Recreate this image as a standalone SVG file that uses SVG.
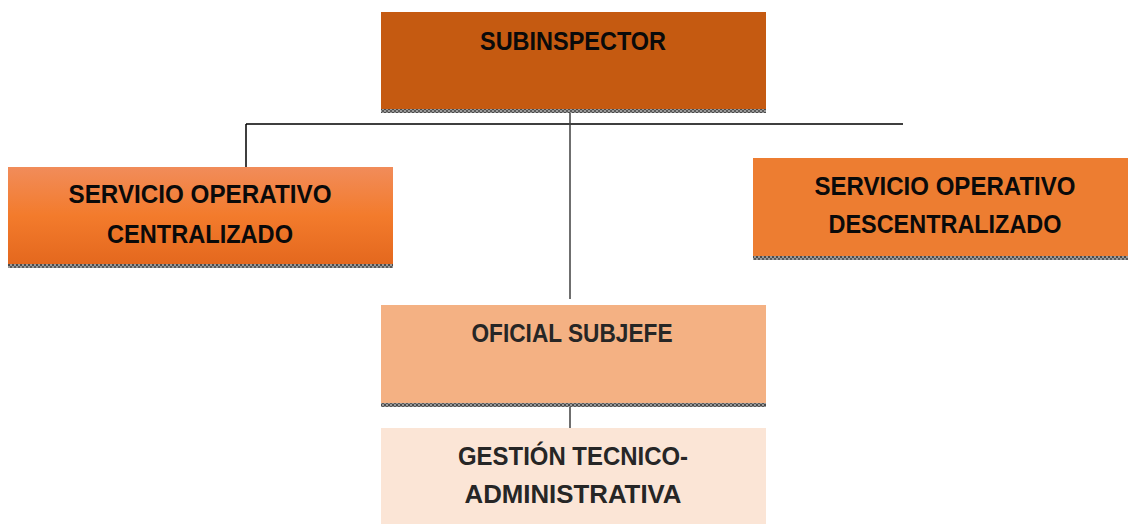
<svg xmlns="http://www.w3.org/2000/svg" width="1128" height="525" viewBox="0 0 1128 525">
<style>
.t{font-family:"Liberation Sans",Arial,sans-serif;font-weight:bold;font-size:25px;text-anchor:middle;fill:#0a0a0a}
.d{fill:#262626}
.c{stroke:#000;stroke-width:1.5;fill:none}
.c2{stroke:#404040;stroke-width:1.5;fill:none}
</style>
<defs>
<pattern id="h" width="4" height="4" patternUnits="userSpaceOnUse">
<rect width="4" height="4" fill="#9a9a9a"/>
<rect width="2" height="2" fill="#4a4a4a"/>
<rect x="2" y="2" width="2" height="2" fill="#5a5a5a"/>
</pattern>
<linearGradient id="g1" x1="0" y1="0" x2="0" y2="1">
<stop offset="0" stop-color="#F18C5A"/>
<stop offset="0.5" stop-color="#F37B2C"/>
<stop offset="1" stop-color="#E4681E"/>
</linearGradient>
</defs>
<g id="connectors">
<path class="c" d="M246,124 H903 M246,124 V167"/>
<path class="c2" d="M570,113 V299 M570,407 V428"/>
</g>
<g id="subinspector">
<rect x="381" y="12" width="385" height="97" fill="#C55A11"/>
<rect x="381" y="109" width="385" height="4" fill="url(#h)"/>
<text class="t" x="573" y="50" textLength="186" lengthAdjust="spacingAndGlyphs">SUBINSPECTOR</text>
</g>
<g id="centralizado">
<rect x="8" y="167" width="385" height="97" fill="url(#g1)"/>
<rect x="8" y="264" width="385" height="4" fill="url(#h)"/>
<text class="t" x="200" y="203" textLength="263" lengthAdjust="spacingAndGlyphs">SERVICIO OPERATIVO</text>
<text class="t" x="200" y="243" textLength="186" lengthAdjust="spacingAndGlyphs">CENTRALIZADO</text>
</g>
<g id="descentralizado">
<rect x="753" y="158" width="375" height="98" fill="#ED7D31"/>
<rect x="753" y="256" width="375" height="4" fill="url(#h)"/>
<text class="t" x="945" y="195" textLength="261" lengthAdjust="spacingAndGlyphs">SERVICIO OPERATIVO</text>
<text class="t" x="945" y="233" textLength="233" lengthAdjust="spacingAndGlyphs">DESCENTRALIZADO</text>
</g>
<g id="oficial">
<rect x="381" y="305" width="385" height="98" fill="#F4B183"/>
<rect x="381" y="403" width="385" height="4" fill="url(#h)"/>
<text class="t d" x="572" y="342" textLength="201" lengthAdjust="spacingAndGlyphs">OFICIAL SUBJEFE</text>
</g>
<g id="gestion">
<rect x="381" y="428" width="385" height="96" fill="#FBE5D6"/>
<text class="t d" x="573" y="465" textLength="230" lengthAdjust="spacingAndGlyphs">GESTIÓN TECNICO-</text>
<text class="t d" x="573" y="503" textLength="217" lengthAdjust="spacingAndGlyphs">ADMINISTRATIVA</text>
</g>
</svg>
